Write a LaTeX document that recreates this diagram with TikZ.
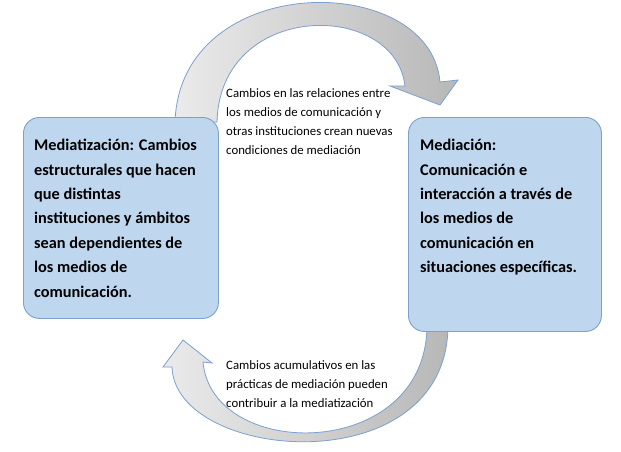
\documentclass[tikz,border=0pt]{standalone}
\usepackage{fontspec}
\setmainfont{Carlito}
\definecolor{edge}{RGB}{125,160,205}
\definecolor{boxfill}{RGB}{190,214,238}
\begin{document}
\begin{tikzpicture}[x=1pt,y=-1pt,
  band/.style={left color=black!8,right color=black!28,draw=edge,line width=0.8pt},
  box/.style={draw=edge,line width=0.9pt,fill=boxfill,rounded corners=16pt},
  big/.style={anchor=north west,align=left,font=\bfseries\fontsize{16.3}{24.4}\selectfont,inner sep=0pt},
  small/.style={anchor=north west,align=left,font=\fontsize{12.8}{19.3}\selectfont,inner sep=0pt}]
\useasboundingbox (0,0) rectangle (621,451);
\fill[white] (0,0) rectangle (621,451);
% top band
\draw[band] (175,122) .. controls (180,-30) and (430,-30) .. (440,82)
  -- (458,80) -- (440,105) -- (390,86) -- (405,86)
  .. controls (395,0) and (220,0) .. (217,122) -- cycle;
% bottom band
\draw[band] (448,325) .. controls (448,485) and (175,462) .. (172,367)
  -- (163,367) -- (183,340) -- (212,363) -- (203,362)
  .. controls (212,462) and (427,462) .. (427,325) -- cycle;
\node[box,minimum width=195pt,minimum height=201pt,anchor=north west] (L) at (23,117) {};
\node[box,minimum width=193pt,minimum height=214pt,anchor=north west] (R) at (408,117) {};
\node[big] (lt) at (34,139) {Mediatización: Cambios\\estructurales que hacen\\que distintas\\instituciones y ámbitos\\sean dependientes de\\los medios de\\comunicación.};
\node[big] (rt) at (420,139) {Mediación:\\Comunicación e\\interacción a través de\\los medios de\\comunicación en\\situaciones específicas.};
\node[small] (tt) at (226,88) {Cambios en las relaciones entre\\los medios de comunicación y\\otras instituciones crean nuevas\\condiciones de mediación};
\node[small] (bt) at (226,360) {Cambios acumulativos en las\\prácticas de mediación pueden\\contribuir a la mediatización};
\end{tikzpicture}
\end{document}
